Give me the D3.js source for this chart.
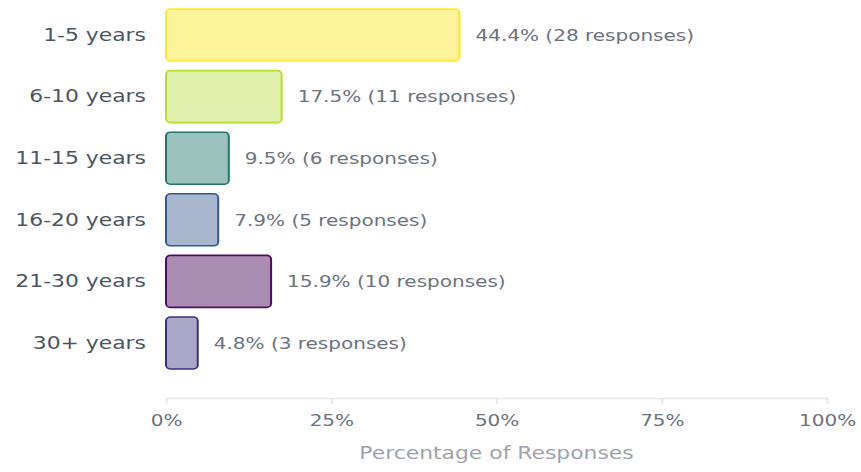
<!DOCTYPE html>
<html>
<head>
<meta charset="utf-8">
<script src="https://cdn.jsdelivr.net/npm/d3@7"></script>
<style>
  html, body { margin: 0; padding: 0; background: #ffffff; }
  svg { display: block; font-family: "DejaVu Sans", sans-serif; }
</style>
</head>
<body>
<svg id="chart"></svg>
<script>
// Years of experience, share of responses
const categories = ["1-5 years", "6-10 years", "11-15 years", "16-20 years", "21-30 years", "30+ years"];
const percents   = [44.4, 17.5, 9.5, 7.9, 15.9, 4.8];
const responses  = [28, 11, 6, 5, 10, 3];
const fillColors   = ["#fdf39b", "#e0efab", "#9bc2bd", "#a8b7ce", "#ab8db3", "#aaa7c9"];
const strokeColors = ["#fde725", "#b5de2b", "#1f776b", "#2f5b8c", "#4b0f5e", "#3b2f7e"];
const tickValues = [0, 25, 50, 75, 100];
const tickLabels = ["0%", "25%", "50%", "75%", "100%"];

const W = 861, H = 472;
const sx = 1.25;             // drawing is widened horizontally
const VW = W / sx;

const svg = d3.select("#chart")
  .attr("width", W).attr("height", H)
  .attr("viewBox", `0 0 ${VW} ${H}`)
  .attr("preserveAspectRatio", "none");

const x0 = 166 / sx, x1 = 827 / sx;
const x = d3.scaleLinear().domain([0, 100]).range([x0, x1]);
const y = d3.scaleBand().domain(categories).range([0, 378])
  .paddingInner(0.156).paddingOuter(0.146);

const data = categories.map((c, i) => ({ c, p: percents[i], n: responses[i], f: fillColors[i], s: strokeColors[i] }));

// bars
svg.append("g").selectAll("rect").data(data).join("rect")
  .attr("x", x(0))
  .attr("y", d => y(d.c))
  .attr("width", d => x(d.p) - x(0))
  .attr("height", y.bandwidth())
  .attr("rx", 3.5).attr("ry", 4)
  .attr("fill", d => d.f)
  .attr("stroke", d => d.s)
  .attr("stroke-width", 1.6);

// category labels
svg.append("g").selectAll("text").data(data).join("text")
  .attr("x", 146 / sx)
  .attr("y", d => y(d.c) + y.bandwidth() / 2)
  .attr("text-anchor", "end")
  .attr("dominant-baseline", "central")
  .attr("font-size", 17.5)
  .attr("fill", "#4b5563")
  .text(d => d.c);

// value labels
svg.append("g").selectAll("text").data(data).join("text")
  .attr("x", d => x(d.p) + 16 / sx)
  .attr("y", d => y(d.c) + y.bandwidth() / 2)
  .attr("dominant-baseline", "central")
  .attr("font-size", 16)
  .attr("fill", "#6b7280")
  .text(d => `${d.p}% (${d.n} responses)`);

// x axis
const axis = svg.append("g").attr("transform", "translate(0,398)")
  .call(d3.axisBottom(x).tickValues(tickValues).tickFormat((d, i) => tickLabels[i]).tickSize(6).tickSizeOuter(0).tickPadding(11));
axis.select(".domain").attr("stroke", "#e5e7eb").attr("stroke-width", 1.5);
axis.selectAll(".tick line").attr("stroke", "#e5e7eb").attr("stroke-width", 1.5);
axis.selectAll(".tick text").attr("font-size", 16).attr("fill", "#6b7280").attr("font-family", "DejaVu Sans, sans-serif");

// axis title
svg.append("text")
  .attr("x", (x0 + x1) / 2).attr("y", 459)
  .attr("text-anchor", "middle")
  .attr("font-size", 17.5)
  .attr("fill", "#9ca3af")
  .text("Percentage of Responses");
</script>
</body>
</html>
